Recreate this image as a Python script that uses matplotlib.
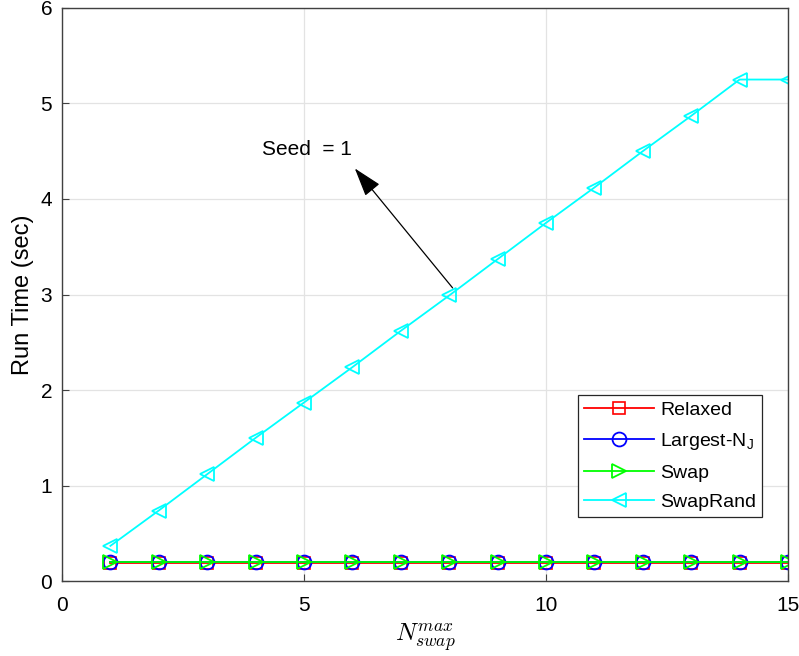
import matplotlib
matplotlib.use("Agg")
import matplotlib.pyplot as plt

plt.rcParams['font.family'] = ['Liberation Sans', 'DejaVu Sans']
plt.rcParams['mathtext.fontset'] = 'cm'

n_swap = [1, 2, 3, 4, 5, 6, 7, 8, 9, 10, 11, 12, 13, 14, 15]
relaxed = [0.19] * 15
largest_nj = [0.20] * 15
swap = [0.20] * 15
swap_rand = [0.37, 0.74, 1.12, 1.50, 1.87, 2.24, 2.62, 2.99, 3.37, 3.75, 4.12, 4.50, 4.87, 5.25, 5.25]

fig = plt.figure(figsize=(7.99, 6.56), dpi=100)
ax = fig.add_axes([0.0776, 0.114, 0.9086, 0.874])

ms = 9
ax.plot(n_swap, relaxed, color='#ff0000', marker='s', ms=ms - 1, mfc='none', mew=1.2, lw=1.3, label='Relaxed')
ax.plot(n_swap, largest_nj, color='#0000ff', marker='o', ms=ms + 1, mfc='none', mew=1.3, lw=1.3,
        label=r'Largest-N$_\mathregular{J}$')
ax.plot(n_swap, swap, color='#00ff00', marker='>', ms=ms + 1, mfc='none', mew=1.3, lw=1.3, label='Swap')
ax.plot(n_swap, swap_rand, color='#00ffff', marker='<', ms=ms + 1, mfc='none', mew=1.3, lw=1.3, label='SwapRand')

ax.set_xlim(0, 15)
ax.set_ylim(0, 6)
ax.set_xticks([0, 5, 10, 15])
ax.set_yticks([0, 1, 2, 3, 4, 5, 6])
ax.grid(True, color='#e3e3e3', lw=0.9)
ax.set_axisbelow(True)
ax.tick_params(direction='in', labelsize=15, color='#404040', length=5, top=False, right=False)
ax.tick_params(axis='x', pad=11)
ax.tick_params(axis='y', pad=7)
for s in ax.spines.values():
    s.set_color('#404040')
    s.set_linewidth(1.0)

ax.set_ylabel('Run Time (sec)', fontsize=17, labelpad=5)
ax.set_xlabel(r'$N_{swap}^{max}$', fontsize=18, labelpad=4)

ax.annotate('', xy=(6.05, 4.32), xytext=(8.07, 3.07),
            arrowprops=dict(arrowstyle='-|>,head_length=1.0,head_width=0.32', color='black', lw=0.9,
                            shrinkA=0, shrinkB=0, mutation_scale=18))
ax.text(4.13, 4.52, 'Seed  = 1', fontsize=15, va='center', ha='left')

leg = ax.legend(loc='lower right', bbox_to_anchor=(0.964, 0.112), fontsize=14, frameon=True,
                fancybox=False, edgecolor='#262626', framealpha=1, handlelength=3.6,
                borderpad=0.3, labelspacing=0.62, handletextpad=0.3, borderaxespad=0)
leg.get_frame().set_linewidth(0.9)

fig.savefig('out.png', dpi=100)
